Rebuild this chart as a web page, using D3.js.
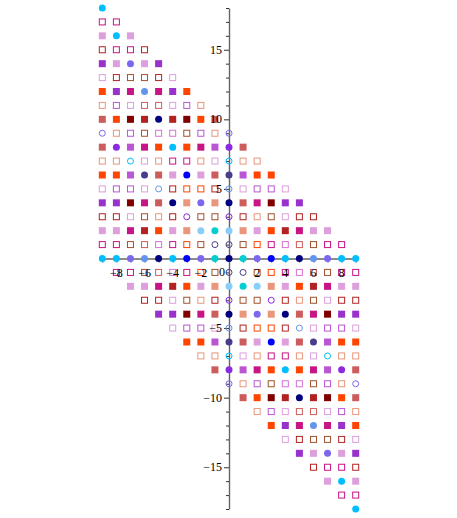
<!DOCTYPE html>
<html>
<head>
<meta charset="utf-8">
<script src="https://cdn.jsdelivr.net/npm/d3@7"></script>
<style>
  body { margin: 0; background: #fff; }
  text { font-family: "Liberation Serif", "Times New Roman", serif; font-size: 12px; fill: #000; }
</style>
</head>
<body>
<div id="chart"></div>
<script>
// Gaussian integers u + v i, u and v from -9 to 9, drawn at x = u, y = v - u
const realParts = [-9, -8, -7, -6, -5, -4, -3, -2, -1, 0, 1, 2, 3, 4, 5, 6, 7, 8, 9];
const imagParts = [9, 8, 7, 6, 5, 4, 3, 2, 1, 0, -1, -2, -3, -4, -5, -6, -7, -8, -9];

// one letter per point, columns follow realParts, rows follow imagParts
const colorRows = [
  "DQPFXPOSIMISOPXFPQD",
  "QDQPFXYOSVSOYXFPQDQ",
  "PQMEQPRYYDYYRPQEMQP",
  "FPECIFEQPKPQEFICEPF",
  "XFQINGOSICISOGNIQFX",
  "PXPFGDQPFNFPQDGFPXP",
  "OYREOQBOSVSOBQOERYO",
  "SOYQSPOMELEMOPSQYOS",
  "ISYPIFSETKTESFIPYSI",
  "MVDKCNVLKNKLVNCKDVM",
  "ISYPIFSETKTESFIPYSI",
  "SOYQSPOMELEMOPSQYOS",
  "OYREOQBOSVSOBQOERYO",
  "PXPFGDQPFNFPQDGFPXP",
  "XFQINGOSICISOGNIQFX",
  "FPECIFEQPKPQEFICEPF",
  "PQMEQPRYYDYYRPQEMQP",
  "QDQPFXYOSVSOYXFPQDQ",
  "DQPFXPOSIMISOPXFPQD"
];

// C filled circle, c open circle, S filled square, s open square
const markerRows = [
  "CsSsSsSsScSsSsSsSsC",
  "sCsSsSsSsCsSsSsSsCs",
  "SsCsSsSsScSsSsSsCsS",
  "sSsCsSsSsCsSsSsCsSs",
  "SsSsCsSsScSsSsCsSsS",
  "sSsSsCsSsCsSsCsSsSs",
  "SsSsSsCsScSsCsSsSsS",
  "sSsSsSsCsCsCsSsSsSs",
  "SsSsSsSsCcCsSsSsSsS",
  "cCcCcCcCcCcCcCcCcCc",
  "SsSsSsSsCcCsSsSsSsS",
  "sSsSsSsCsCsCsSsSsSs",
  "SsSsSsCsScSsCsSsSsS",
  "sSsSsCsSsCsSsCsSsSs",
  "SsSsCsSsScSsSsCsSsS",
  "sSsCsSsSsCsSsSsCsSs",
  "SsCsSsSsScSsSsSsCsS",
  "sCsSsSsSsCsSsSsSsCs",
  "CsSsSsSsScSsSsSsSsC"
];

const palette = {
  N: "#000080", T: "#00ced1", M: "#7b68ee", B: "#0000ff", D: "#00bfff",
  C: "#6495ed", L: "#87cefa", K: "#483d8b", V: "#8a2be2",
  P: "#dda0dd", I: "#cd5c5c", O: "#ff4500", R: "#800000", F: "#b22222",
  Q: "#c71585", X: "#9932cc", Y: "#ba55d3", S: "#e9967a", E: "#a0522d",
  G: "#da70d6"
};

const xTickLabels = [-8, -6, -4, -2, 2, 4, 6, 8];
const yTickLabels = [-15, -10, -5, 5, 10, 15];

const width = 457, height = 518;
const x = d3.scaleLinear().domain([-9, 9]).range([102.3, 355.7]);
const y = d3.scaleLinear().domain([-18, 18]).range([509, 8]);
const fmt = d => d < 0 ? "\u2212" + (-d) : String(d);

const svg = d3.select("#chart").append("svg")
  .attr("width", width)
  .attr("height", height)
  .style("background", "#fff");

// axes through the origin
const xAxis = svg.append("g").attr("transform", `translate(0,${y(0)})`)
  .call(d3.axisBottom(x).tickValues(d3.range(-9, 10)).tickSize(4).tickSizeOuter(0).tickFormat(""));
const yAxis = svg.append("g").attr("transform", `translate(${x(0)},0)`)
  .call(d3.axisLeft(y).tickValues(d3.range(-18, 19).filter(d => d % 5 !== 0)).tickSize(3).tickSizeOuter(0).tickFormat(""));
yAxis.append("g")
  .call(d3.axisLeft(y).tickValues(yTickLabels).tickSize(5).tickFormat(""))
  .select(".domain").remove();
[xAxis, yAxis].forEach(g => {
  g.selectAll(".domain").attr("stroke", "#666").attr("stroke-width", 1.4);
  g.selectAll(".tick line").attr("stroke", "#333").attr("stroke-width", 1);
});

// points
const pts = [];
imagParts.forEach((v, i) => {
  realParts.forEach((u, j) => {
    pts.push({ u, v, color: palette[colorRows[i][j]], mark: markerRows[i][j] });
  });
});

const g = svg.append("g");
g.selectAll("circle")
  .data(pts.filter(d => d.mark === "C" || d.mark === "c"))
  .join("circle")
  .attr("cx", d => x(d.u))
  .attr("cy", d => y(d.v - d.u))
  .attr("r", d => d.mark === "C" ? 3.5 : 3)
  .attr("fill", d => d.mark === "C" ? d.color : "none")
  .attr("stroke", d => d.mark === "C" ? "none" : d.color)
  .attr("stroke-width", 1);

g.selectAll("rect")
  .data(pts.filter(d => d.mark === "S" || d.mark === "s"))
  .join("rect")
  .attr("x", d => x(d.u) - (d.mark === "S" ? 3.5 : 3))
  .attr("y", d => y(d.v - d.u) - (d.mark === "S" ? 3.5 : 3))
  .attr("width", d => d.mark === "S" ? 7 : 6)
  .attr("height", d => d.mark === "S" ? 7 : 6)
  .attr("fill", d => d.mark === "S" ? d.color : "none")
  .attr("stroke", d => d.mark === "S" ? "none" : d.color)
  .attr("stroke-width", 1);

// tick labels
svg.append("g").selectAll("text")
  .data(xTickLabels)
  .join("text")
  .attr("x", d => x(d))
  .attr("y", y(0) + 18)
  .attr("text-anchor", "middle")
  .text(fmt);

svg.append("text")
  .attr("x", x(0) - 4)
  .attr("y", y(0) + 17)
  .attr("text-anchor", "end")
  .text("0");

svg.append("g").selectAll("text")
  .data(yTickLabels)
  .join("text")
  .attr("x", x(0) - 7)
  .attr("y", d => y(d) + 4)
  .attr("text-anchor", "end")
  .text(fmt);
</script>
</body>
</html>
